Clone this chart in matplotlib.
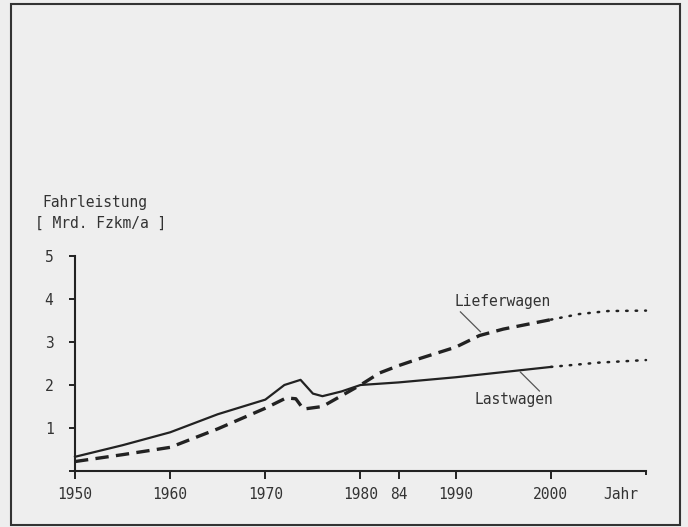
import matplotlib.pyplot as plt
from matplotlib.patches import Rectangle

# Lastwagen (durchgezogen) bis 2000, danach Prognose (punktiert)
jahre_last = [1950, 1955, 1960, 1965, 1970, 1972, 1973.7, 1975, 1976, 1978, 1980, 1984, 1990, 1995, 2000]
last = [0.33, 0.60, 0.90, 1.32, 1.66, 2.00, 2.12, 1.80, 1.74, 1.85, 2.00, 2.06, 2.18, 2.30, 2.42]
jahre_last_prog = [2000, 2005, 2010]
last_prog = [2.42, 2.52, 2.58]

# Lieferwagen (gestrichelt)
jahre_liefer = [1950, 1955, 1960, 1965, 1970, 1972.2, 1973.2, 1974, 1976, 1978, 1980, 1982, 1984, 1986, 1990, 1992.5, 1995, 2000]
liefer = [0.22, 0.38, 0.55, 0.98, 1.46, 1.70, 1.68, 1.44, 1.50, 1.75, 2.00, 2.28, 2.45, 2.60, 2.88, 3.15, 3.30, 3.52]
jahre_liefer_prog = [2000, 2003, 2006, 2010]
liefer_prog = [3.52, 3.65, 3.72, 3.73]

x_ticks = [1950, 1960, 1970, 1980, 1984, 1990, 2000, 2007.3, 2010]
x_labels = ['1950', '1960', '1970', '1980', '84', '1990', '2000', 'Jahr', '']
y_ticks = [0, 1, 2, 3, 4, 5]
y_labels = ['', '1', '2', '3', '4', '5']

plt.rcParams['font.family'] = ['DejaVu Sans Mono']
fg = '#222222'
txt = '#333333'

fig = plt.figure(figsize=(6.88, 5.27), dpi=100, facecolor='#eeeeee')
ax = fig.add_axes([75 / 688, 1 - 471 / 527, (646 - 75) / 688, (471 - 256) / 527])
ax.set_facecolor('none')

ax.plot(jahre_last, last, color=fg, lw=1.6, solid_joinstyle='round', clip_on=False)
ax.plot(jahre_last_prog, last_prog, color=fg, lw=1.8, linestyle=(0, (0.6, 3.2)),
        dash_capstyle='round', clip_on=False)
ax.plot(jahre_liefer, liefer, color=fg, lw=2.4, linestyle=(0, (4.0, 2.2)), clip_on=False)
ax.plot(jahre_liefer_prog, liefer_prog, color=fg, lw=1.8, linestyle=(0, (0.6, 3.2)),
        dash_capstyle='round', clip_on=False)

ax.set_xlim(1950, 2010)
ax.set_ylim(0, 5)
for s in ['top', 'right']:
    ax.spines[s].set_visible(False)
for s in ['left', 'bottom']:
    ax.spines[s].set_linewidth(1.5)
    ax.spines[s].set_color(fg)

ax.set_xticks(x_ticks)
ax.set_xticklabels(x_labels)
ax.set_yticks(y_ticks)
ax.set_yticklabels(y_labels)
ax.tick_params(axis='x', direction='out', length=5.5, width=1.4, color=fg,
               labelsize=10.5, labelcolor=txt, pad=6)
ax.tick_params(axis='y', direction='out', length=4.5, width=1.4, color=fg,
               labelsize=10.5, labelcolor=txt, pad=11)
# keine Tickmarke unter "Jahr"
xt = ax.xaxis.get_major_ticks()
xt[7].tick1line.set_visible(False)
xt[8].tick1line.set_markersize(3)

# Beschriftungen der Kurven mit Hinweislinien
ax.text(1994.9, 3.94, 'Lieferwagen', ha='center', va='center', fontsize=10.5, color=txt)
ax.plot([1990.5, 1992.6], [3.70, 3.24], color='#555555', lw=0.9)
ax.text(1996.1, 1.67, 'Lastwagen', ha='center', va='center', fontsize=10.5, color=txt)
ax.plot([1996.8, 1998.8], [2.30, 1.86], color='#555555', lw=0.9)

fig.text(42 / 688, 1 - 203 / 527, 'Fahrleistung', ha='left', va='center', fontsize=10.5, color=txt)
fig.text(35 / 688, 1 - 223 / 527, '[ Mrd. Fzkm/a ]', ha='left', va='center', fontsize=10.5, color=txt)

# Rahmen um die Abbildung
fig.patches.append(Rectangle((11 / 688, 2 / 527), 669 / 688, 521 / 527, transform=fig.transFigure,
                             fill=False, edgecolor='#333333', lw=1.5))

fig.savefig('out.png', dpi=100, facecolor=fig.get_facecolor())
plt.close(fig)
